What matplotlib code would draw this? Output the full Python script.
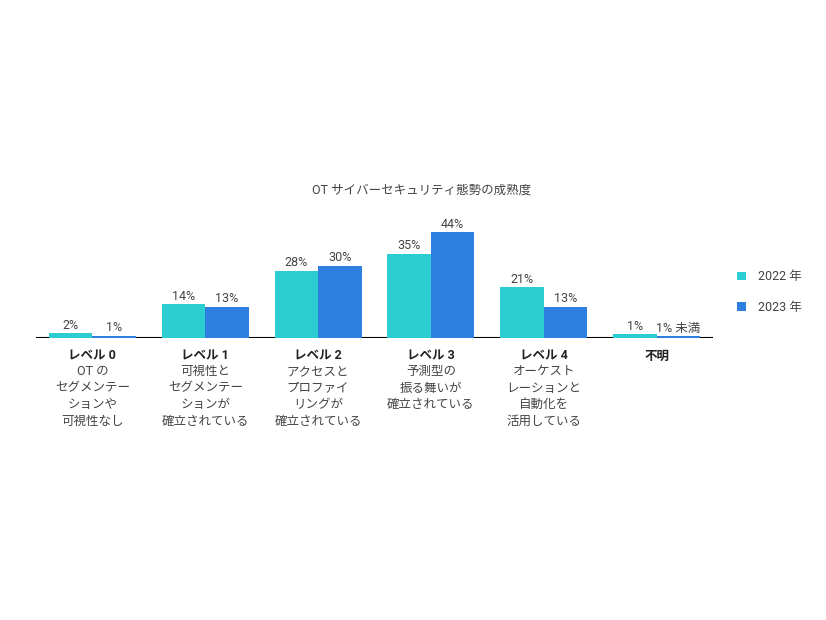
import matplotlib
matplotlib.use("Agg")
import matplotlib.pyplot as plt
import numpy as np

plt.rcParams['font.family'] = ['Roboto', 'Noto Sans CJK JP', 'DejaVu Sans']

# data
levels = ["レベル 0", "レベル 1", "レベル 2", "レベル 3", "レベル 4", "不明"]
descriptions = [
    "OT の\nセグメンテー\nションや\n可視性なし",
    "可視性と\nセグメンテー\nションが\n確立されている",
    "アクセスと\nプロファイ\nリングが\n確立されている",
    "予測型の\n振る舞いが\n確立されている",
    "オーケスト\nレーションと\n自動化を\n活用している",
    "",
]
values_2022 = [2, 14, 28, 35, 21, 1.5]
values_2023 = [1, 13, 30, 44, 13, 0.8]
labels_2022 = ["2%", "14%", "28%", "35%", "21%", "1%"]
labels_2023 = ["1%", "13%", "30%", "44%", "13%", "1% 未満"]
series_names = ["2022 年", "2023 年"]
title = "OT サイバーセキュリティ態勢の成熟度"

teal = "#2BCDD0"
blue = "#2E7FE0"
gray = "#444444"

fig = plt.figure(figsize=(8.26, 6.2), dpi=100)
ax = fig.add_axes([36 / 826, 282 / 620, 677 / 826, 120.5 / 620])

x = np.arange(len(levels))
w = 0.385
# bars sit over the baseline, as in the reference
b1 = ax.bar(x - w / 2, values_2022, w, color=teal, label=series_names[0], zorder=3)
b2 = ax.bar(x + w / 2, values_2023, w, color=blue, label=series_names[1], zorder=3)
ax.bar_label(b1, labels=labels_2022, padding=1, fontsize=9, color=gray)
ax.bar_label(b2, labels=labels_2023, padding=1, fontsize=9, color=gray)

ax.set_xlim(-0.5, len(levels) - 0.5)
ax.set_ylim(0, 50)
ax.axhline(0, color="black", linewidth=1.5, zorder=2)
for s in ax.spines.values():
    s.set_visible(False)
ax.set_xticks([])
ax.set_yticks([])

# category labels: bold level name + description
for i in x:
    ax.annotate(levels[i], xy=(i, 0), xycoords=("data", "axes fraction"),
                xytext=(0, -18), textcoords="offset pixels",
                ha="center", va="center", fontsize=9, fontweight="bold",
                color="#222222")
    if descriptions[i]:
        ax.annotate(descriptions[i], xy=(i, 0), xycoords=("data", "axes fraction"),
                    xytext=(0, -27), textcoords="offset pixels",
                    ha="center", va="top", fontsize=9, color=gray,
                    linespacing=1.36)

fig.text(422 / 826, 1 - 190 / 620, title, ha="center", va="center",
         fontsize=9, color=gray)

fig.legend(handles=[b1, b2], labels=series_names, loc="upper left",
           bbox_to_anchor=(726 / 826, 1 - 259 / 620), frameon=False,
           handlelength=0.7, handleheight=0.7, labelspacing=1.4,
           handletextpad=1.0, fontsize=9, labelcolor=gray)

fig.savefig("out.png", dpi=100)
